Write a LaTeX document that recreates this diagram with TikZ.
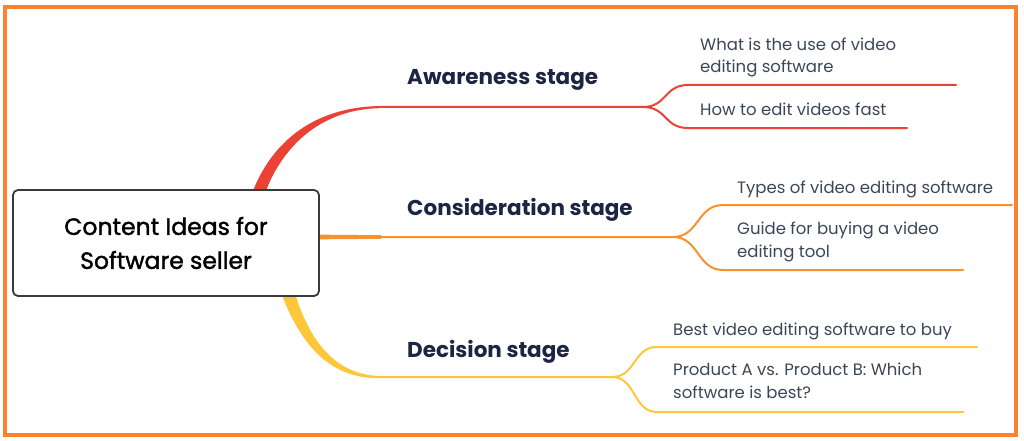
\documentclass[tikz,border=0pt]{standalone}
\usepackage{fontspec}
\setmainfont{Poppins}
\newfontfamily\topicfont{Poppins}[FakeBold=1.6]
\usepackage{tikz}
\usetikzlibrary{positioning, calc, backgrounds}
\definecolor{frameorange}{HTML}{FA8231}
\definecolor{awred}{HTML}{EB4235}
\definecolor{coorange}{HTML}{F7922E}
\definecolor{deyellow}{HTML}{FCC73A}
\definecolor{boxgray}{HTML}{3A3A3A}
\definecolor{stagetext}{HTML}{1C2541}
\definecolor{ideatext}{HTML}{3B4656}

\begin{document}
\begin{tikzpicture}[x=1pt, y=-1pt,
  topic/.style={rectangle, rounded corners=5pt, draw=boxgray, line width=1.8pt,
    fill=white, align=center, minimum width=306pt, minimum height=106pt,
    font=\topicfont\fontsize{23.5}{34}\selectfont, text=black},
  stage/.style={anchor=base west, inner sep=0pt, text=stagetext,
    font=\bfseries\fontsize{21.5}{24}\selectfont},
  idea/.style={anchor=base west, inner sep=0pt, align=left, text=ideatext,
    font=\fontsize{16.5}{22.5}\selectfont},
  branch/.style={line width=2pt, line cap=round}
]
  \useasboundingbox (0,0) rectangle (1024,441);
  % outer frame
  \draw[frameorange, line width=4pt] (5,7) rectangle (1016,435);

  \node[topic] (root) at (166,243) {Content Ideas for\\Software seller};

  % trunks, behind the box
  \begin{scope}[on background layer]
    \fill[awred] (251,196) .. controls (272,138) and (318,107) .. (380,106)
      -- (380,108.2) .. controls (325,109) and (283,142) .. (264,196) -- cycle;
    \fill[coorange] (300,234.5) -- (381,235.2) -- (381,238.8) -- (300,239.5) -- cycle;
    \fill[deyellow] (280,290) .. controls (300,345) and (330,379) .. (380,378.2)
      -- (380,376) .. controls (338,375) and (310,345) .. (294,290) -- cycle;
  \end{scope}

  % stages
  \node[stage] (aware) at (407,85) {Awareness stage};
  \node[stage] (consid) at (407,215) {Consideration stage};
  \node[stage] (decide) at (407,357) {Decision stage};

  % ideas (multi-line ones sit on their last baseline)
  \node[idea] (aw-a) at (700,73) {What is the use of video\\editing software};
  \node[idea] (aw-b) at (700,115) {How to edit videos fast};
  \node[idea] (co-a) at (737,193) {Types of video editing software};
  \node[idea] (co-b) at (737,257) {Guide for buying a video\\editing tool};
  \node[idea] (de-a) at (673,335) {Best video editing software to buy};
  \node[idea] (de-b) at (673,398) {Product A vs. Product B: Which\\software is best?};

  % branch points
  \coordinate (aw) at (380,107);
  \coordinate (aw-fork) at (643,107);
  \coordinate (aw-1) at (688,85);  \coordinate (aw-1e) at (956,85);
  \coordinate (aw-2) at (688,128); \coordinate (aw-2e) at (907,128);
  \coordinate (co) at (380,237);
  \coordinate (co-fork) at (673,237);
  \coordinate (co-1) at (723,205); \coordinate (co-1e) at (1012,205);
  \coordinate (co-2) at (723,270); \coordinate (co-2e) at (963,270);
  \coordinate (de) at (380,377);
  \coordinate (de-fork) at (612,377);
  \coordinate (de-1) at (657,347); \coordinate (de-1e) at (977,347);
  \coordinate (de-2) at (657,412); \coordinate (de-2e) at (963,412);

  \draw[branch, awred] (aw) -- (aw-fork) .. controls +(24,0) and +(-24,0) .. (aw-1) -- (aw-1e);
  \draw[branch, awred] (aw-fork) .. controls +(24,0) and +(-24,0) .. (aw-2) -- (aw-2e);
  \draw[branch, coorange] (co) -- (co-fork) .. controls +(26,0) and +(-26,0) .. (co-1) -- (co-1e);
  \draw[branch, coorange] (co-fork) .. controls +(26,0) and +(-26,0) .. (co-2) -- (co-2e);
  \draw[branch, deyellow] (de) -- (de-fork) .. controls +(24,0) and +(-24,0) .. (de-1) -- (de-1e);
  \draw[branch, deyellow] (de-fork) .. controls +(24,0) and +(-24,0) .. (de-2) -- (de-2e);
\end{tikzpicture}
\end{document}
